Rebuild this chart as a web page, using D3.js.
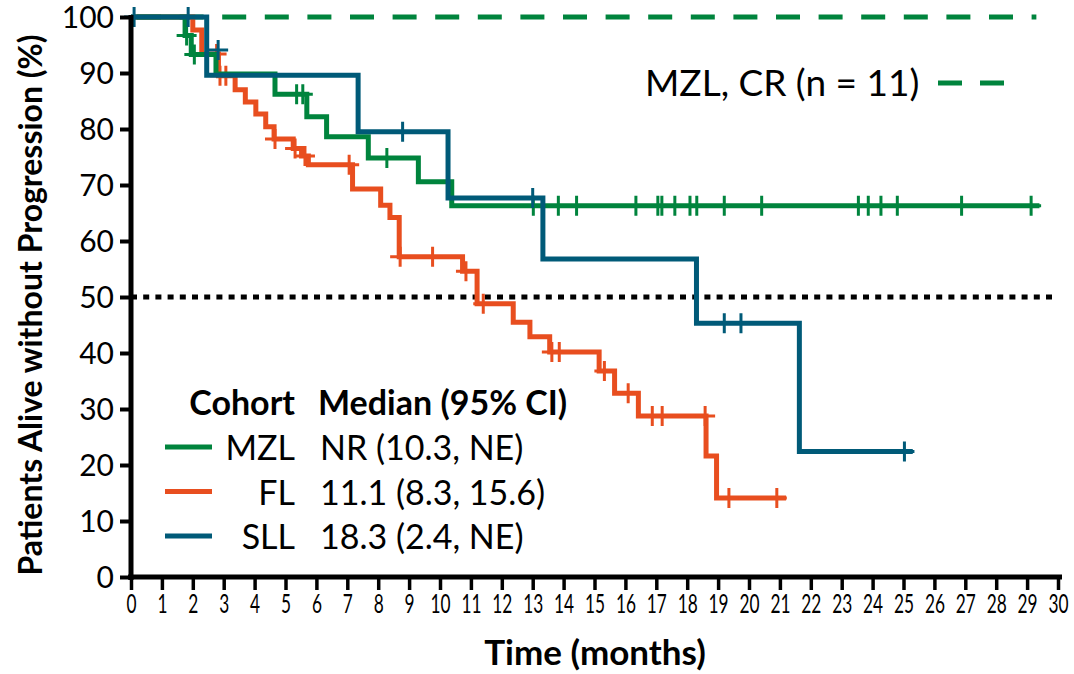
<!DOCTYPE html>
<html>
<head>
<meta charset="utf-8">
<script src="https://cdn.jsdelivr.net/npm/d3@7"></script>
<style>
    body { margin: 0; background: #fff; }
    svg { display: block; font-family: Lato, "Open Sans", sans-serif; }
</style>
</head>
<body>
<svg id="chart" width="1074" height="674"></svg>
<script>

/* time axis ticks (months) and survival ticks (%) */
var MONTH_TICKS = [0,1,2,3,4,5,6,7,8,9,10,11,12,13,14,15,16,17,18,19,20,21,22,23,24,25,26,27,28,29,30];
var PERCENT_TICKS = [0,10,20,30,40,50,60,70,80,90,100];

/* step points [month, % alive without progression] */
var MZL_STEPS = [[0,100],[1.75,96.7],[1.95,93.3],[2.75,89.8],[4.66,86.2],[5.69,82.2],[6.33,78.6],
    [7.68,74.8],[9.3,70.6],[10.38,66.3]];
var MZL_END = 29.4;
var MZL_CENSORED = [[1.8,96.7],[2.05,93.3],[5.36,86.2],[5.56,86.2],[8.28,74.8],[13.02,66.3],[13.83,66.3],
    [14.42,66.3],[16.34,66.3],[17.05,66.3],[17.18,66.3],[17.6,66.3],[18.09,66.3],[18.31,66.3],[19.2,66.3],
    [20.41,66.3],[23.54,66.3],[23.86,66.3],[24.27,66.3],[24.8,66.3],[26.88,66.3],[29.13,66.3]];

var FL_STEPS = [[0,100],[2.0,97.7],[2.29,93.4],[2.83,89.5],[3.37,87.0],[3.7,84.8],[4.04,82.7],[4.36,80.4],
    [4.63,78.2],[5.25,76.5],[5.52,75.2],[5.74,73.6],[7.17,69.3],[8.08,66.4],[8.38,64.2],[8.68,57.2],
    [10.73,54.6],[11.2,48.8],[12.37,45.5],[12.91,42.9],[13.55,40.2],[15.15,36.8],[15.65,32.8],[16.42,28.75],
    [18.61,21.6],[18.95,14.1]];
var FL_END = 21.2;
var FL_CENSORED = [[2.77,93.4],[2.88,89.5],[3.07,89.5],[4.66,78.2],[5.31,76.5],[5.63,75.2],[7.06,73.6],
    [8.71,57.2],[9.76,57.2],[10.84,54.6],[11.4,48.8],[13.62,40.2],[13.86,40.2],[15.32,36.8],[16.09,32.8],
    [16.87,28.75],[17.19,28.75],[18.58,28.75],[19.35,14.1],[20.9,14.1]];

var SLL_STEPS = [[0,100],[2.45,89.6],[7.35,79.5],[10.26,67.7],[13.33,56.8],[18.3,45.3],[21.63,22.4]];
var SLL_END = 25.3;
var SLL_CENSORED = [[0.1,100],[1.85,100],[2.82,94.1],[8.79,79.5],[13.0,67.7],[19.2,45.3],[19.74,45.3],[25.03,22.4]];

/* MZL complete responders: flat at 100% */
var MZL_CR_LINE = [[0,100],[29.3,100]];
var MEDIAN_LINE = [[0,50],[30,50]];

/* legend */
var COHORTS = ["MZL", "FL", "SLL"];
var MEDIANS = ["NR (10.3, NE)", "11.1 (8.3, 15.6)", "18.3 (2.4, NE)"];
var COLORS = {MZL: "#00843d", FL: "#e84e1f", SLL: "#005a78"};

var svg = d3.select("#chart");

var x = d3.scaleLinear().domain([0, 30]).range([131, 1058]);
var y = d3.scaleLinear().domain([0, 100]).range([577, 17]);

function toPath(points){
    return d3.line()
        .x(function(d){ return x(d[0]); })
        .y(function(d){ return y(d[1]); })(points);
}

function stepPath(steps, end){
    var pts = steps.concat([[end, steps[steps.length-1][1]]]);
    return d3.line()
        .curve(d3.curveStepAfter)
        .x(function(d){ return x(d[0]); })
        .y(function(d){ return y(d[1]); })(pts);
}

/* reference lines */
svg.append("path")
    .attr("d", toPath(MZL_CR_LINE))
    .attr("fill", "none")
    .attr("stroke", COLORS.MZL)
    .attr("stroke-width", 5)
    .attr("stroke-dasharray", "24,18.6")
    .attr("stroke-dashoffset", 36.6);

svg.append("path")
    .attr("d", toPath(MEDIAN_LINE))
    .attr("fill", "none")
    .attr("stroke", "#000")
    .attr("stroke-width", 5)
    .attr("stroke-dasharray", "6,6.2");

/* curves: FL under MZL under SLL */
var series = [
    {name: "FL", steps: FL_STEPS, end: FL_END, censored: FL_CENSORED},
    {name: "MZL", steps: MZL_STEPS, end: MZL_END, censored: MZL_CENSORED},
    {name: "SLL", steps: SLL_STEPS, end: SLL_END, censored: SLL_CENSORED}
];

series.forEach(function(s){
    var g = svg.append("g").attr("class", "curve " + s.name);
    g.append("path")
        .attr("d", stepPath(s.steps, s.end))
        .attr("fill", "none")
        .attr("stroke", COLORS[s.name])
        .attr("stroke-width", 5);

    /* censor ticks */
    g.selectAll(".censor").data(s.censored).enter()
        .append("path")
        .attr("class", "censor")
        .attr("d", function(d){
            var cx = x(d[0]), cy = y(d[1]);
            return "M" + (cx-10) + "," + cy + "H" + (cx+10) + "M" + cx + "," + (cy-10) + "V" + (cy+10);
        })
        .attr("stroke", COLORS[s.name])
        .attr("stroke-width", 3);
});

/* axes */
var xAxis = svg.append("g")
    .attr("transform", "translate(0,577)")
    .call(d3.axisBottom(x).tickValues(MONTH_TICKS).tickSize(13).tickPadding(4).tickFormat(d3.format("d")));
xAxis.select(".domain").attr("stroke-width", 5).attr("d", "M128,0H1062");
xAxis.selectAll(".tick line").attr("stroke-width", 3.5);
xAxis.selectAll(".tick text")
    .attr("font-family", "Lato, sans-serif")
    .attr("font-size", 27)
    .attr("fill", "#000")
    .attr("transform", "scale(0.64,1)");

var yAxis = svg.append("g")
    .attr("transform", "translate(131,0)")
    .call(d3.axisLeft(y).tickValues(PERCENT_TICKS).tickSize(11).tickPadding(6));
yAxis.select(".domain").attr("stroke-width", 5).attr("d", "M0,15V580");
yAxis.selectAll(".tick line").attr("stroke-width", 4);
yAxis.selectAll(".tick text")
    .attr("font-family", "Lato, sans-serif")
    .attr("font-size", 30)
    .attr("dy", "0.34em")
    .attr("fill", "#000");

svg.append("text")
    .attr("x", 595)
    .attr("y", 665)
    .attr("text-anchor", "middle")
    .style("font-size", "35px")
    .style("font-weight", "bold")
    .text("Time (months)");

svg.append("text")
    .attr("transform", "translate(42,305) rotate(-90)")
    .attr("text-anchor", "middle")
    .style("font-size", "32px")
    .style("font-weight", "bold")
    .text("Patients Alive without Progression (%)");

/* MZL CR label */
svg.append("text")
    .attr("x", 645)
    .attr("y", 96)
    .style("font-size", "37px")
    .text("MZL, CR (n = 11)");
svg.append("path")
    .attr("d", "M938,83H1004")
    .attr("stroke", COLORS.MZL)
    .attr("stroke-width", 5)
    .attr("stroke-dasharray", "24,18");

/* cohort legend */
var legend = svg.append("g");
legend.append("text")
    .attr("x", 295).attr("y", 415)
    .attr("text-anchor", "end")
    .style("font-size", "34px").style("font-weight", "bold")
    .text("Cohort");
legend.append("text")
    .attr("x", 318).attr("y", 415)
    .style("font-size", "34px").style("font-weight", "bold")
    .text("Median (95% CI)");

COHORTS.forEach(function(name, i){
    var rowY = 460 + i*44.5;
    legend.append("line")
        .attr("x1", 165).attr("x2", 212)
        .attr("y1", rowY-13).attr("y2", rowY-13)
        .attr("stroke", COLORS[name])
        .attr("stroke-width", 5);
    legend.append("text")
        .attr("x", 295).attr("y", rowY)
        .attr("text-anchor", "end")
        .style("font-size", "34px")
        .text(name);
    legend.append("text")
        .attr("x", 320).attr("y", rowY)
        .style("font-size", "34px")
        .text(MEDIANS[i]);
});
</script>
</body>
</html>
